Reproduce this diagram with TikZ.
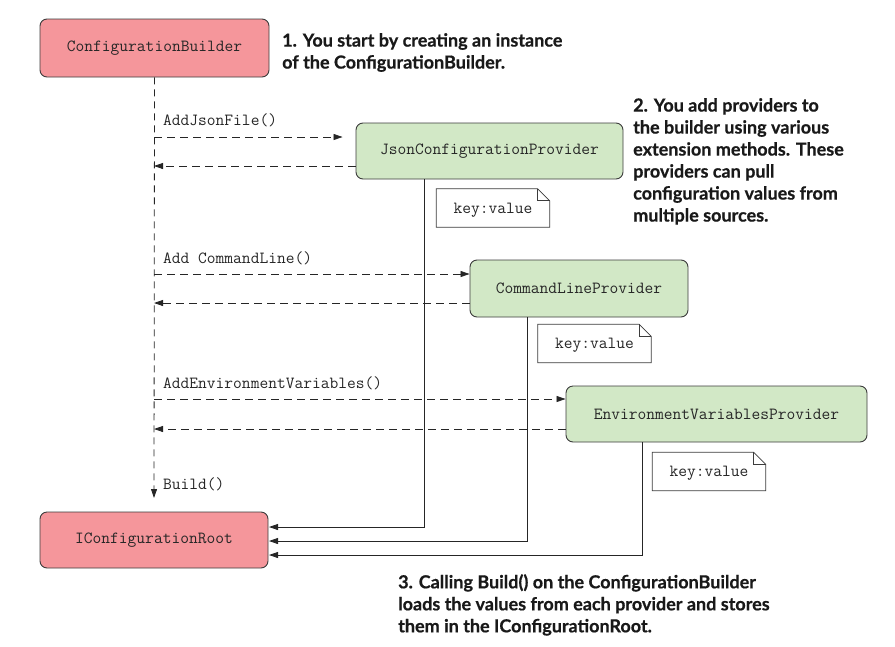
\documentclass[tikz,border=0pt]{standalone}
\usepackage{fontspec}
\newfontfamily\annfont[BoldFeatures={FakeBold=0.6}]{Lato}
\usetikzlibrary{arrows.meta}
\definecolor{pinkfill}{HTML}{F5969B}
\definecolor{greenfill}{HTML}{D2E8C6}
\definecolor{edgecol}{HTML}{3C3C3C}
\begin{document}
\begin{tikzpicture}[x=1pt,y=-1pt,
  box/.style={draw=edgecol, line width=0.9pt, rounded corners=7pt, font=\fontsize{17}{20}\selectfont\ttfamily, text=black!85, inner sep=0pt},
  pinkbox/.style={box, fill=pinkfill},
  greenbox/.style={box, fill=greenfill},
  notebox/.style={inner sep=0pt, minimum width=113pt, minimum height=38pt, font=\fontsize{17}{20}\selectfont\ttfamily, text=black!85, text depth=0pt},
  notedraw/.style={draw=edgecol, line width=0.8pt},
  lbl/.style={font=\fontsize{17}{20}\selectfont\ttfamily, text=black!85, inner sep=0pt, anchor=base west},
  ann/.style={font=\fontsize{18}{22}\selectfont\annfont\bfseries, inner sep=0pt, anchor=north west, align=left, text=black!90},
  msg/.style={draw=black!85, line width=0.8pt, dash pattern=on 8pt off 5pt, -{Triangle[length=9pt,width=6pt]}},
  life/.style={draw=black!85, line width=0.8pt, dash pattern=on 7pt off 5pt},
  ret/.style={draw=black!85, line width=0.8pt, -{Triangle[length=9pt,width=6pt]}}
]
\useasboundingbox (0,0) rectangle (895,646);

% boxes
\node[pinkbox, minimum width=229pt, minimum height=58pt] (cb) at (154.5,48) {ConfigurationBuilder};
\node[pinkbox, minimum width=228pt, minimum height=56pt] (root) at (154,540) {IConfigurationRoot};
\node[greenbox, minimum width=267pt, minimum height=56pt] (json) at (489.5,151) {JsonConfigurationProvider};
\node[greenbox, minimum width=218pt, minimum height=57pt] (cmd) at (579,288.5) {CommandLineProvider};
\node[greenbox, minimum width=301pt, minimum height=56pt] (env) at (716.5,414) {EnvironmentVariablesProvider};

% coordinates on the builder lifeline
\coordinate (l1) at (154,137);
\coordinate (l2) at (154,166);
\coordinate (l3) at (154,274);
\coordinate (l4) at (154,303);
\coordinate (l5) at (154,399);
\coordinate (l6) at (154,429);
\coordinate (lb) at (154,498);

% provider lifelines bends
\coordinate (j1) at (424,527);
\coordinate (c1) at (527,541);
\coordinate (e1) at (642,555);
\coordinate (rj) at (269,527);
\coordinate (rc) at (269,541);
\coordinate (re) at (269,555);

% solid lifelines to root
\draw[ret] (json.south -| j1) -- (j1) -- (rj);
\draw[ret] (cmd.south -| c1) -- (c1) -- (rc);
\draw[ret] (env.south -| e1) -- (e1) -- (re);

% builder lifeline
\draw[life, -{Triangle[length=9pt,width=6pt]}] (cb.south) -- (lb);

% messages
\draw[msg] (l1) -- ([xshift=-13pt]json.west |- l1);
\draw[msg] (json.west |- l2) -- (l2);
\draw[msg] (l3) -- (cmd.west |- l3);
\draw[msg] (cmd.west |- l4) -- (l4);
\draw[msg] (l5) -- (env.west |- l5);
\draw[msg] (env.west |- l6) -- (l6);

% message labels
\node[lbl] (m1) at (163,125) {AddJsonFile()};
\node[lbl] (m2) at (163,263) {Add CommandLine()};
\node[lbl] (m3) at (163,388) {AddEnvironmentVariables()};
\node[lbl] (m4) at (163,489) {Build()};

% notes
\foreach \nm/\px/\py in {n1/493/208, n2/594.5/343.5, n3/709/471.5}{
  \node[notebox] (\nm) at (\px,\py) {key:value};
  \fill[white] (\nm.south west) -- (\nm.north west) -- ([xshift=-12pt]\nm.north east) -- ([yshift=-12pt]\nm.north east) -- (\nm.south east) -- cycle;
  \node[notebox] at (\px,\py) {key:value};
  \draw[notedraw] (\nm.south west) -- (\nm.north west) -- ([xshift=-12pt]\nm.north east) -- ([yshift=-12pt]\nm.north east) -- (\nm.south east) -- cycle;
  \draw[notedraw] ([xshift=-12pt]\nm.north east) -- ([xshift=-12pt,yshift=-12pt]\nm.north east) -- ([yshift=-12pt]\nm.north east);
}

% annotations
\node[ann] (a1) at (282,33) {1. You start by creating an instance\\of the ConfigurationBuilder.};
\node[ann] (a2) at (633,98) {2. You add providers to\\the builder using various\\extension methods. These\\providers can pull\\configuration values from\\multiple sources.};
\node[ann] (a3) at (398,574) {3. Calling Build() on the ConfigurationBuilder\\loads the values from each provider and stores\\them in the IConfigurationRoot.};
\end{tikzpicture}
\end{document}
